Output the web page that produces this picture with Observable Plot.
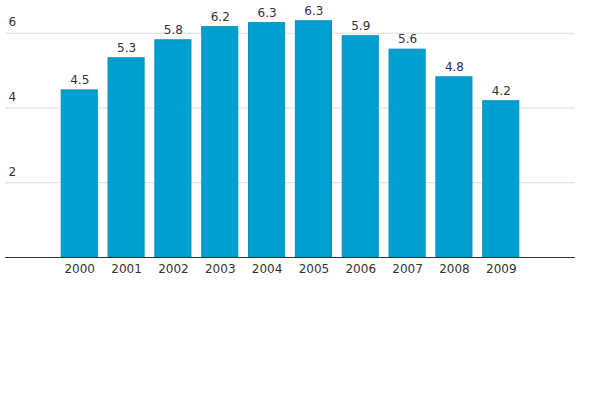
<!DOCTYPE html>
<html>
<head>
<meta charset="utf-8">
<script src="https://cdn.jsdelivr.net/npm/d3@7"></script>
<script src="https://cdn.jsdelivr.net/npm/@observablehq/plot@0.6"></script>
<style>
  html, body { margin: 0; padding: 0; background: #fff; }
  svg { font-family: "DejaVu Sans", sans-serif; }
</style>
</head>
<body>
<div id="chart"></div>
<script>
const years = ["2000","2001","2002","2003","2004","2005","2006","2007","2008","2009"];
const values = [4.47, 5.33, 5.81, 6.16, 6.27, 6.32, 5.92, 5.56, 4.82, 4.18];
const yTicks = [2, 4, 6];

const data = years.map((y, i) => ({year: y, value: values[i]}));

const chart = Plot.plot({
  width: 600,
  height: 400,
  marginLeft: 5,
  marginRight: 25,
  marginTop: 14,
  marginBottom: 143,
  style: {fontFamily: "DejaVu Sans, sans-serif", fontSize: "12px", color: "#333"},
  x: {domain: years, paddingInner: 0.23, paddingOuter: 1.2, round: false, label: null, axis: null},
  y: {domain: [0, 6.5], label: null, axis: null},
  marks: [
    Plot.ruleY(yTicks, {stroke: "#dcdcdc", strokeWidth: 1}),
    Plot.text(yTicks, {y: d => d, text: d => String(d), frameAnchor: "left", textAnchor: "start", dx: 3, dy: -11, fill: "#333", fontSize: 12}),
    Plot.barY(data, {x: "year", y: "value", fill: "#009fcf", stroke: "#0090bd", strokeWidth: 1}),
    Plot.text(data, {x: "year", y: "value", text: d => d.value.toFixed(1), dy: -10, fill: "#333", fontSize: 12}),
    Plot.ruleY([0], {stroke: "#333", strokeWidth: 1}),
    Plot.axisX({tickSize: 0, tickPadding: 7, fontSize: 12, fill: "#333"})
  ]
});
document.getElementById("chart").appendChild(chart);
</script>
</body>
</html>
